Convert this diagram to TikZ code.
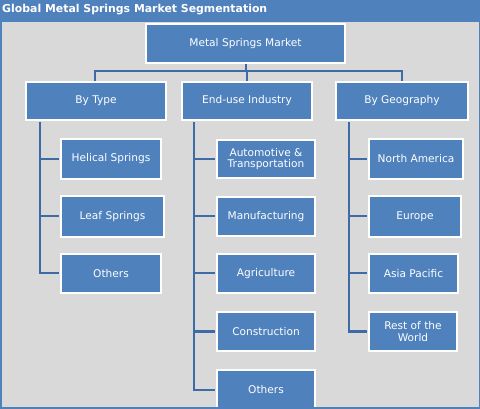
\documentclass[tikz,border=0pt]{standalone}
\usepackage{fontspec}
\setmainfont{DejaVu Sans}
\definecolor{boxblue}{HTML}{4F81BD}
\definecolor{bggray}{HTML}{D9D9D9}
\definecolor{linkblue}{RGB}{62,106,166}
\tikzset{
  segbox/.style={draw=white, line width=2pt, fill=boxblue, text=white,
    font=\fontsize{10.6}{11.5}\selectfont, align=center, inner sep=0pt},
  link/.style={draw=linkblue, line width=2pt}
}
\newcommand{\segnode}[6]{% name, cx, cy, w, h, text
  \node[segbox, minimum width=#4pt-2pt, minimum height=#5pt-2pt] (#1) at (#2,#3) {#6};}
\begin{document}
\begin{tikzpicture}[x=1pt,y=-1pt]
\useasboundingbox (0,0) rectangle (480,409);
\fill[boxblue] (0,0) rectangle (480,409);
\fill[bggray] (1.5,22) rectangle (478.5,407);
\node[anchor=west, text=white, font=\fontsize{10.9}{12}\bfseries\selectfont, inner sep=0pt] (title) at (2,10) {Global Metal Springs Market Segmentation};
\coordinate (bus) at (245.5,71);
\segnode{top}{245.5}{43.5}{201}{41}{Metal Springs Market}
\segnode{type}{96}{101}{142}{40}{By Type}
\segnode{enduse}{247}{101}{132}{40}{End-use Industry}
\segnode{geo}{402}{101}{134}{40}{By Geography}
% links
\draw[link] (top.south) -- (bus);
\draw[link] (bus) -| ([xshift=-1pt]type.north);
\draw[link] (bus) -| (enduse.north);
\draw[link] (bus) -| (geo.north);
% child nodes
\segnode{helical}{111}{159}{102}{42}{Helical Springs}
\segnode{leaf}{112.5}{216.5}{105}{43}{Leaf Springs}
\segnode{otherst}{111}{273.5}{102}{41}{Others}
\segnode{auto}{266}{159}{100}{40}{Automotive \&\\Transportation}
\segnode{manuf}{266}{216.5}{100}{41}{Manufacturing}
\segnode{agri}{266}{273.5}{100}{41}{Agriculture}
\segnode{constr}{266}{331.5}{100}{41}{Construction}
\segnode{otherse}{266}{389.5}{100}{41}{Others}
\segnode{na}{416}{159}{96}{42}{North America}
\segnode{europe}{415}{216.5}{94}{43}{Europe}
\segnode{asia}{413.5}{273.5}{91}{41}{Asia Pacific}
\segnode{row}{413}{331.5}{90}{41}{Rest of the\\World}
% branch links
\coordinate (tx) at ([xshift=15pt]type.south west);
\coordinate (ex) at ([xshift=13pt]enduse.south west);
\coordinate (gx) at ([xshift=14pt]geo.south west);
\draw[link] ([yshift=-1pt]tx) |- ([xshift=-1pt]otherst.west);
\draw[link] (tx |- helical.west) -- ([xshift=-1pt]helical.west);
\draw[link] (tx |- leaf.west) -- ([xshift=-1pt]leaf.west);
\draw[link] ([yshift=-1pt]ex) |- ([xshift=-1pt]otherse.west);
\draw[link] (ex |- auto.west) -- ([xshift=-1pt]auto.west);
\draw[link] (ex |- manuf.west) -- ([xshift=-1pt]manuf.west);
\draw[link] (ex |- agri.west) -- ([xshift=-1pt]agri.west);
\draw[link] (ex |- constr.west) -- ([xshift=-1pt]constr.west);
\draw[link] ([yshift=-1pt]gx) |- ([xshift=-1pt]row.west);
\draw[link] (gx |- na.west) -- ([xshift=-1pt]na.west);
\draw[link] (gx |- europe.west) -- ([xshift=-1pt]europe.west);
\draw[link] (gx |- asia.west) -- ([xshift=-1pt]asia.west);
% bottom frame edge over the cut box
\fill[boxblue] (0,407) rectangle (480,409);
\end{tikzpicture}
\end{document}
